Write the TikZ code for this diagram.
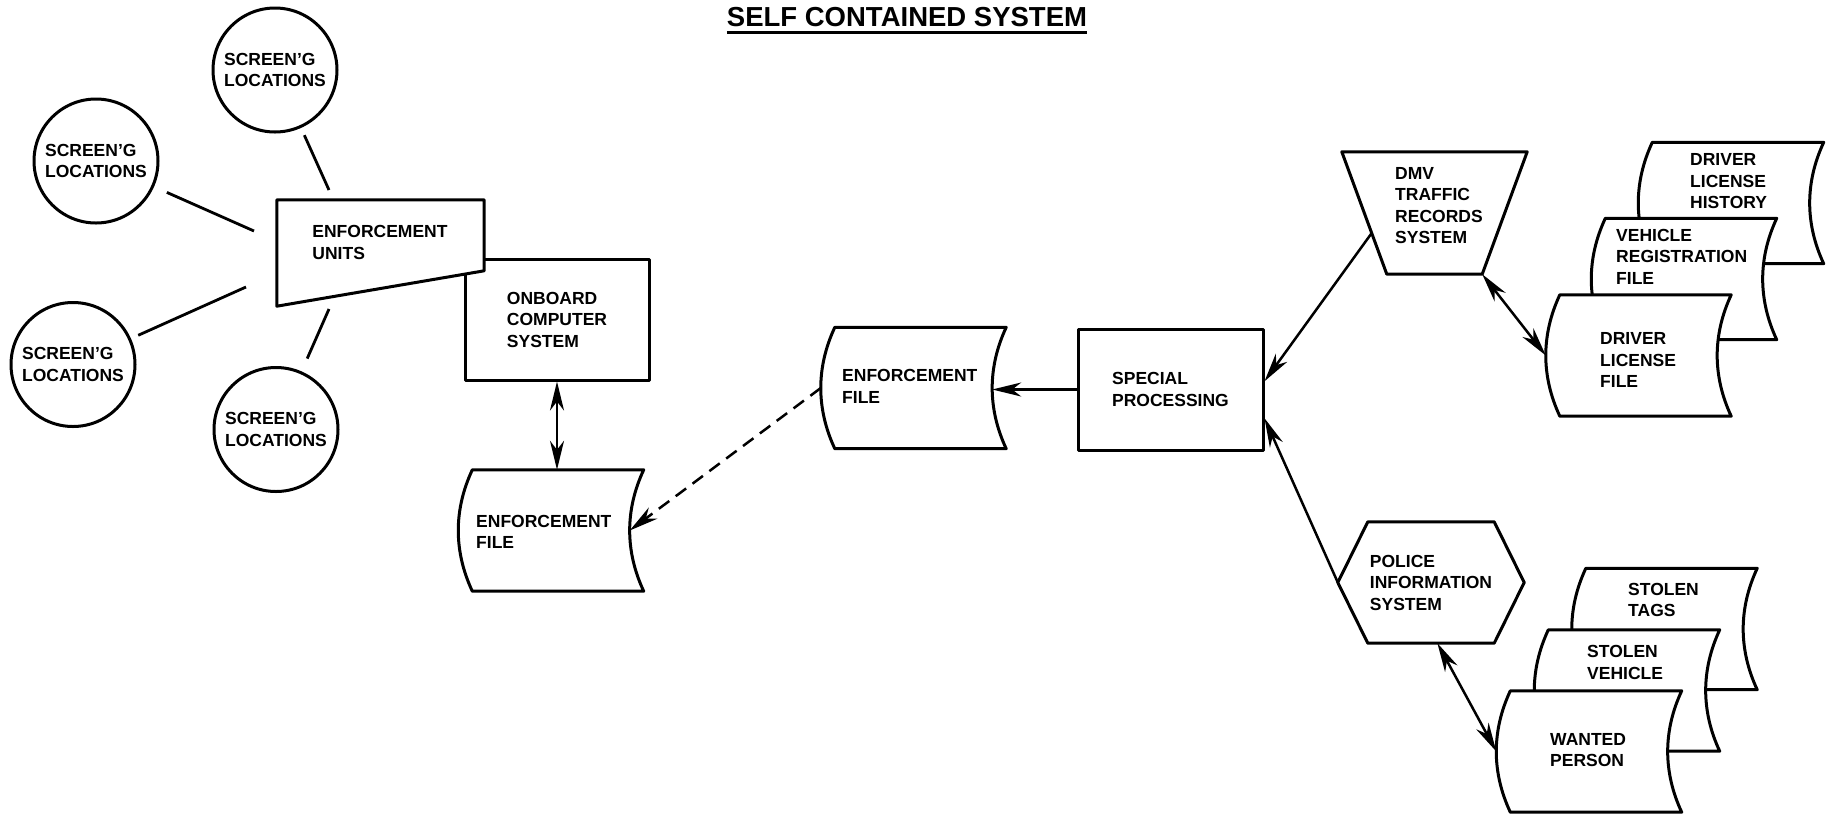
\documentclass[tikz,border=0pt]{standalone}
\usepackage{fontspec}
\setmainfont{Liberation Sans}
\usetikzlibrary{arrows.meta,calc}

% label font used in every box
\newcommand\lblfont{\fontsize{17.5}{21.5}\selectfont\bfseries}

% stored-data symbol: name, centre x, centre y, text x, text y, text
\newcommand\datafile[6]{%
  \node[fileframe] (#1) at (#2,#3) {};
  \draw[shapeline] (#1.north west) -- (#1.north east)
    .. controls ($(#1.north east)+(-18.7,40)$) and ($(#1.south east)+(-18.7,-40)$) .. (#1.south east)
    -- (#1.south west)
    .. controls ($(#1.south west)+(-18.7,-40)$) and ($(#1.north west)+(-18.7,40)$) .. (#1.north west)
    -- cycle;
  \coordinate (#1-l) at ($(#1.west)+(-14,0)$);
  \coordinate (#1-r) at ($(#1.east)+(-14,0)$);
  \node[lbl, anchor=west] (#1-t) at (#4,#5) {#6};
}

\tikzset{
  lbl/.style={font=\lblfont, align=left, inner sep=0pt},
  shapeline/.style={draw, line width=3pt, fill=white, line join=round},
  fileframe/.style={rectangle, minimum width=171pt, minimum height=121pt, inner sep=0pt},
  frame/.style={rectangle, inner sep=0pt},
  site/.style={circle, shapeline, minimum size=124pt, inner sep=0pt, font=\lblfont, align=left},
  box/.style={rectangle, shapeline, inner sep=0pt, font=\lblfont, align=left},
  conn/.style={line width=2.5pt},
  tip/.style={},
  arr/.style={conn, -{Stealth[length=29pt, width=14pt, inset=9pt]}},
  dbl/.style={conn, {Stealth[length=29pt, width=14pt, inset=9pt]}-{Stealth[length=29pt, width=14pt, inset=9pt]}},
  spoke/.style={line width=2.8pt},
}

\begin{document}
\begin{tikzpicture}[x=1pt, y=-1pt]
\useasboundingbox[fill=white] (0,0) rectangle (1834,815);

% title
\node[font=\fontsize{27.5}{31}\selectfont\bfseries, inner sep=0pt] (title) at (907,17.2) {SELF CONTAINED SYSTEM};
\draw[line width=2.8pt] ($(title.south west)+(0,5)$) -- ($(title.south east)+(0,5)$);

% screening locations
\node[site] (s1) at (275,70) {SCREEN'G\\LOCATIONS};
\node[site] (s2) at (96,161) {SCREEN'G\\LOCATIONS};
\node[site] (s3) at (73,364.5) {SCREEN'G\\LOCATIONS};
\node[site] (s4) at (276,429.5) {SCREEN'G\\LOCATIONS};

% onboard computer, partly hidden by the enforcement units
\node[box, minimum width=184pt, minimum height=121pt] (ob) at (557,319.5) {ONBOARD\\COMPUTER\\SYSTEM};

% enforcement units (manual input shape)
\node[frame, minimum width=207pt, minimum height=106pt] (eu) at (380.5,253) {};
\draw[shapeline] (eu.north west) -- (eu.north east) -- ($(eu.north east)+(0,71)$) -- (eu.south west) -- cycle;
\node[lbl] (eu-t) at (380,242.5) {ENFORCEMENT\\UNITS};

% spokes between the screening locations and the units
\coordinate (u1) at (329,190);
\coordinate (u2) at (254,231);
\coordinate (u3) at (246,287);
\coordinate (u4) at (329,309);
\draw[spoke, shorten >=8pt] (u1) -- (s1);
\draw[spoke, shorten >=14pt] (u2) -- (s2);
\draw[spoke, shorten >=8pt] (u3) -- (s3);
\draw[spoke, shorten >=14pt] (u4) -- (s4);

% enforcement files
\datafile{ef1}{558}{530.5}{476}{532}{ENFORCEMENT\\FILE}
\datafile{ef2}{920.5}{388}{842}{386.5}{ENFORCEMENT\\FILE}

% special processing
\node[box, minimum width=185pt, minimum height=121pt] (sp) at (1170.5,389.5) {SPECIAL\\PROCESSING};

% DMV traffic records system
\node[frame, minimum width=185pt, minimum height=122pt] (dmv) at (1434.5,213) {};
\coordinate (dmv-bl) at ($(dmv.south west)+(45,0)$);
\coordinate (dmv-br) at ($(dmv.south east)+(-45,0)$);
\draw[shapeline] (dmv.north west) -- (dmv.north east) -- (dmv-br) -- (dmv-bl) -- cycle;
\coordinate (dmv-l) at ($(dmv.north west)!0.664!(dmv-bl)$);
\node[lbl, anchor=west] (dmv-t) at (1395,205.5) {DMV\\TRAFFIC\\RECORDS\\SYSTEM};

% DMV files, back to front
\datafile{dlh}{1738}{203}{1690}{181.5}{DRIVER\\LICENSE\\HISTORY}
\datafile{vrf}{1691}{279}{1616}{256.5}{VEHICLE\\REGISTRATION\\FILE}
\datafile{dlf}{1645.5}{355.5}{1600}{360}{DRIVER\\LICENSE\\FILE}

% police information system
\node[frame, lbl, minimum width=186pt, minimum height=121pt] (pis) at (1431,582.5) {POLICE\\INFORMATION\\SYSTEM};
\draw[line width=3pt, line join=round] (pis.west) -- ($(pis.north west)+(30,0)$) -- ($(pis.north east)+(-30,0)$)
  -- (pis.east) -- ($(pis.south east)+(-30,0)$) -- ($(pis.south west)+(30,0)$) -- cycle;

% police files, back to front
\datafile{stg}{1671.5}{629}{1628}{600}{STOLEN\\TAGS}
\datafile{svh}{1634}{690.5}{1587}{662.5}{STOLEN\\VEHICLE}
\datafile{wpn}{1596}{751.5}{1550}{750}{WANTED\\PERSON}

% data flows
\draw[dbl] (ob.south) -- (ob.south |- ef1.north);
\draw[arr] (sp.west) -- (sp.west -| ef2-r);
\draw[arr, dash pattern=on 13pt off 8pt] (ef2-l) -- (ef1-r);
\draw[arr] (dmv-l) -- (sp.5.7);
\draw[arr] (pis.west) -- (sp.-17);
\draw[dbl] (dmv-br) -- (dlf-l);
\draw[dbl] (pis.-84.3) -- (wpn-l);
\end{tikzpicture}
\end{document}
